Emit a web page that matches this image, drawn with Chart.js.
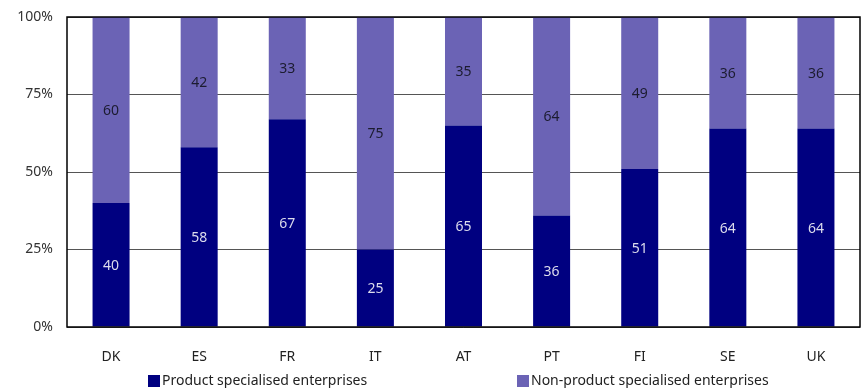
<!DOCTYPE html>
<html>
<head>
<meta charset="utf-8">
<script src="https://cdn.jsdelivr.net/npm/chart.js@4"></script>
<style>
    html, body { margin: 0; padding: 0; background: #fff; }
    #wrap { width: 861px; height: 388px; position: relative; }
</style>
</head>
<body>
<div id="wrap"><canvas id="shareChart" width="861" height="388"></canvas></div>
<script>
// Share of enterprises by specialisation, per country (%)
const countries = ['DK', 'ES', 'FR', 'IT', 'AT', 'PT', 'FI', 'SE', 'UK'];
const productShare = [40, 58, 67, 25, 65, 36, 51, 64, 64];
const nonProductShare = [60, 42, 33, 75, 35, 64, 49, 36, 36];
const seriesNames = ['Product specialised enterprises', 'Non-product specialised enterprises'];
const yTicks = [0, 25, 50, 75, 100];

const FONT = '"Noto Sans", "DejaVu Sans", sans-serif';
const DARK = '#000080';
const LIGHT = '#6b63b5';

// Value labels in the middle of each bar segment
const segmentLabels = {
    id: 'segmentLabels',
    afterDatasetsDraw(chart) {
        const ctx = chart.ctx;
        ctx.save();
        ctx.font = '14px ' + FONT;
        ctx.textAlign = 'center';
        ctx.textBaseline = 'middle';
        chart.data.datasets.forEach((ds, i) => {
            const meta = chart.getDatasetMeta(i);
            meta.data.forEach((bar, j) => {
                const top = Math.min(bar.y, bar.base);
                const bottom = Math.max(bar.y, bar.base);
                ctx.fillStyle = i === 0 ? '#dcdcec' : '#1c1c30';
                ctx.fillText(ds.data[j], bar.x, (top + bottom) / 2 + 1);
            });
        });
        ctx.restore();
    }
};

// Plot frame and legend along the bottom
const frameAndLegend = {
    id: 'frameAndLegend',
    afterDraw(chart) {
        const ctx = chart.ctx;
        const a = chart.chartArea;
        ctx.save();
        ctx.strokeStyle = '#000';
        ctx.lineWidth = 1.5;
        ctx.strokeRect(a.left, a.top, a.right - a.left, a.bottom - a.top);

        ctx.font = '14px ' + FONT;
        ctx.textBaseline = 'middle';
        ctx.textAlign = 'left';
        const starts = [148, 517];
        chart.data.datasets.forEach((ds, i) => {
            ctx.fillStyle = ds.backgroundColor;
            ctx.fillRect(starts[i], 375, 12, 12);
            ctx.fillStyle = '#222';
            ctx.fillText(ds.label, starts[i] + 14, 381);
        });
        ctx.restore();
    }
};

new Chart(document.getElementById('shareChart'), {
    type: 'bar',
    data: {
        labels: countries,
        datasets: [
            { label: seriesNames[0], data: productShare, backgroundColor: DARK },
            { label: seriesNames[1], data: nonProductShare, backgroundColor: LIGHT }
        ]
    },
    options: {
        responsive: false,
        animation: false,
        devicePixelRatio: 1,
        layout: { padding: { top: 17, right: 1, left: 0, bottom: 0 } },
        datasets: { bar: { categoryPercentage: 1, barPercentage: 0.42 } },
        plugins: {
            legend: { display: false },
            tooltip: { enabled: false }
        },
        scales: {
            x: {
                stacked: true,
                grid: { display: false },
                border: { display: false },
                ticks: { color: '#222', font: { family: FONT, size: 14 }, padding: 14 },
                afterFit(scale) {
                    scale.height = 61;
                    scale.paddingLeft = 0;
                    scale.paddingRight = 0;
                }
            },
            y: {
                stacked: true,
                min: 0,
                max: 100,
                afterBuildTicks(scale) { scale.ticks = yTicks.map(v => ({ value: v })); },
                grid: { color: '#555', lineWidth: 1, drawTicks: false },
                border: { display: false },
                ticks: {
                    color: '#333',
                    font: { family: FONT, size: 14 },
                    padding: 14,
                    callback: v => v + '%'
                },
                afterFit(scale) {
                    scale.width = 67;
                    scale.paddingTop = 0;
                    scale.paddingBottom = 0;
                }
            }
        }
    },
    plugins: [segmentLabels, frameAndLegend]
});
</script>
</body>
</html>
